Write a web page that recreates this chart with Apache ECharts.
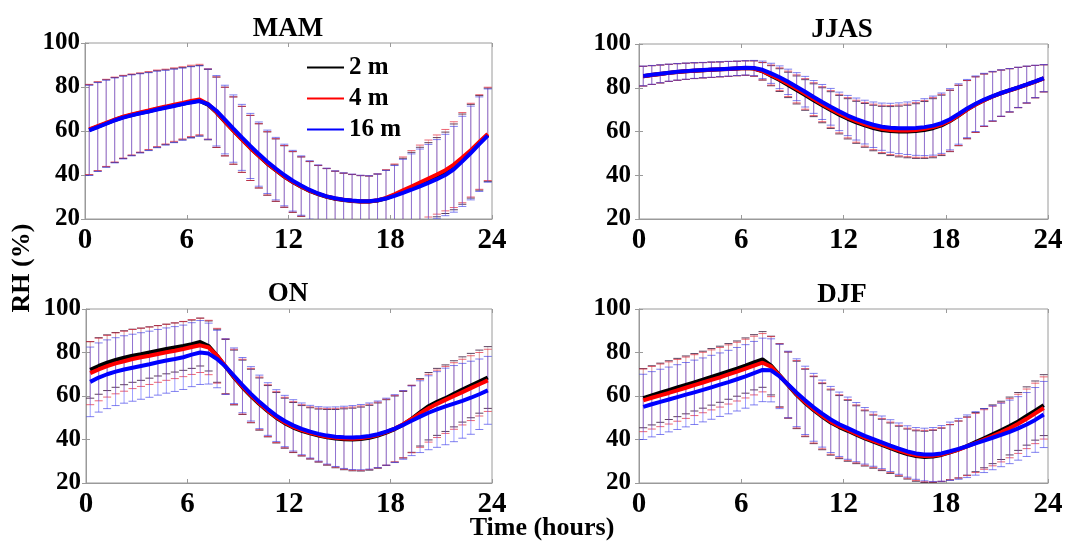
<!DOCTYPE html>
<html>
<head>
<meta charset="utf-8">
<script src="https://cdn.jsdelivr.net/npm/echarts@6/dist/echarts.min.js"></script>
<style>html,body{margin:0;padding:0;background:#fff;}#c{width:1078px;height:541px;}</style>
</head>
<body>
<div id="c"></div>
<script>
// Time of day (hours), half-hourly bins
const T = [0.25,0.75,1.25,1.75,2.25,2.75,3.25,3.75,4.25,4.75,5.25,5.75,6.25,6.75,7.25,7.75,8.25,8.75,9.25,9.75,10.25,10.75,11.25,11.75,12.25,12.75,13.25,13.75,14.25,14.75,15.25,15.75,16.25,16.75,17.25,17.75,18.25,18.75,19.25,19.75,20.25,20.75,21.25,21.75,22.25,22.75,23.25,23.75];
const seriesNames = ['2 m', '4 m', '16 m'];
const panelTitles = ['MAM', 'JJAS', 'ON', 'DJF'];
const xTicks = [0, 6, 12, 18, 24];
const yTicks = [20, 40, 60, 80, 100];

// MAM
const MAM_2m  = [60.5,62,63.5,65,66.3,67.3,68.2,69,70,70.8,71.6,72.4,73.2,73.8,72,68.5,64.3,60.2,56.2,52.3,48.7,45.2,42.2,39.3,36.8,34.7,32.8,31.3,30.1,29.2,28.6,28.2,27.9,27.9,28.4,29.4,30.8,32.4,34,35.6,37.2,39,41,43.7,47.2,50.8,54.6,58.3];
const MAM_4m  = [60.7,62.2,63.7,65.2,66.5,67.5,68.4,69.3,70.3,71.1,72,72.8,73.7,74.3,72.3,68.6,64.3,60.2,56.2,52.3,48.7,45.3,42.3,39.4,36.9,34.8,32.9,31.4,30.2,29.3,28.7,28.3,28,28,28.5,29.6,31.2,33,34.8,36.6,38.4,40.2,42.2,44.7,47.9,51.3,55,58.7];
const MAM_16m = [60.3,61.8,63.3,64.8,66.1,67.1,68,68.8,69.8,70.6,71.4,72.2,73,73.6,72.2,69.2,65.2,61.1,57.1,53.2,49.5,46,42.9,40,37.4,35.2,33.2,31.6,30.3,29.4,28.8,28.4,28.1,28.1,28.5,29.3,30.5,31.9,33.3,34.8,36.4,38.1,40,42.6,46.2,50,54,57.9];
const MAM_sd  = [20.5,20.2,19.8,19.3,18.8,18.4,18,17.7,17.4,17,16.7,16.4,16.2,16,16,16,15.6,15.3,15,14.8,14.6,14.4,14.2,14,13.8,13.5,13.3,13,12.8,12.5,12.2,12,11.8,11.6,12,12.8,13.8,15.2,16.3,17,17.5,18,18.5,19.5,20.5,21.3,21.5,21.2];

// JJAS
const JJAS_2m  = [85.3,85.8,86.3,86.8,87.2,87.5,87.8,88,88.2,88.4,88.6,88.8,89,88.8,87.5,85.5,83.5,81.3,79,76.7,74.3,72,69.8,67.7,65.8,64.2,62.8,61.6,60.7,60.2,60,60,60.2,60.7,61.5,62.8,64.8,67.3,70,72.3,74.3,76,77.5,78.8,80.1,81.4,82.8,84.3];
const JJAS_4m  = [85.3,85.8,86.3,86.8,87.2,87.5,87.8,88,88.2,88.4,88.6,88.8,89,88.8,87.6,85.8,83.9,81.8,79.5,77.2,74.8,72.5,70.3,68.2,66.3,64.7,63.3,62.1,61.2,60.7,60.5,60.5,60.7,61.2,62,63.2,65,67.4,70,72.3,74.3,76,77.5,78.8,80.1,81.4,82.8,84.3];
const JJAS_16m = [85.4,85.9,86.4,86.9,87.3,87.6,87.9,88.1,88.3,88.5,88.7,88.9,89.1,89,88.2,86.6,84.8,82.7,80.5,78.2,75.8,73.5,71.3,69.2,67.3,65.7,64.3,63.1,62.2,61.7,61.5,61.5,61.6,62,62.7,63.8,65.6,68,70.5,72.7,74.6,76.2,77.6,78.9,80.2,81.5,82.9,84.4];
const JJAS_sd  = [4.5,4.3,4.1,3.9,3.8,3.7,3.6,3.5,3.5,3.4,3.4,3.3,3.3,3.5,4,4.6,5.2,5.8,6.4,7,7.5,8,8.4,8.8,9.2,9.6,10,10.4,10.8,11.2,11.6,12,12.5,13,13.5,13.8,14,13.8,13.3,12.7,12,11.3,10.6,9.9,9.2,8.4,7.4,6.2];

// ON
const ON_2m  = [72,73.8,75.3,76.6,77.6,78.5,79.2,80,80.8,81.6,82.3,83,83.8,84.8,83,78.5,73.5,68.5,64,60,56.3,53,50,47.5,45.5,44,42.8,41.8,41,40.4,40.1,40,40.2,40.8,41.8,43.2,44.8,46.8,49.5,52.5,55.3,57.3,59,61,63,64.8,66.6,68.5];
const ON_4m  = [70.5,72.2,73.7,75,76,77,77.8,78.5,79.3,80.1,80.8,81.6,82.5,83.3,82.3,78.5,73.6,68.8,64.3,60.3,56.6,53.3,50.3,47.8,45.8,44.3,43.1,42.1,41.3,40.8,40.5,40.4,40.6,41.2,42.1,43.4,45,47,49.4,52,54.4,56.4,58.2,60,61.8,63.6,65.4,67.2];
const ON_16m = [66.5,68.5,70,71.2,72.2,73,73.8,74.6,75.5,76.3,77,77.8,79,80,79.5,77,73.5,69.3,65,61,57.3,54,51,48.5,46.5,44.9,43.6,42.6,41.8,41.3,41,40.9,41.1,41.6,42.4,43.6,45,46.7,48.6,50.5,52.3,53.8,55.2,56.5,57.8,59.2,60.8,62.6];
const ON_sd_2m  = [13,13,12.8,12.6,12.4,12.2,12,11.8,11.6,11.4,11.3,11.2,11.1,11,11.5,12.2,12.5,12.6,12.5,12.3,12,11.8,11.6,11.5,11.5,11.6,11.8,12.2,12.8,13.4,14,14.4,14.7,14.9,15,15.1,15.2,15.3,15.4,15.5,15.5,15.4,15.3,15.2,15,14.8,14.5,14.2];
const ON_sd_4m  = [14.5,14.4,14.2,14,13.8,13.6,13.4,13.2,13,12.9,12.8,12.7,12.6,12.5,12.5,12.6,12.7,12.7,12.6,12.4,12.1,11.9,11.7,11.6,11.6,11.7,11.9,12.3,12.9,13.5,14.1,14.5,14.8,15,15.1,15.2,15.3,15.4,15.5,15.6,15.6,15.5,15.4,15.3,15.1,14.9,14.6,14.3];
const ON_sd_16m = [16,15.9,15.8,15.6,15.5,15.4,15.3,15.2,15.1,15,14.9,14.8,14.7,14.7,14,13.2,12.8,12.8,12.7,12.5,12.3,12.1,11.9,11.8,11.8,11.9,12.1,12.5,13.1,13.7,14.3,14.7,15,15.2,15.3,15.4,15.6,15.8,16,16.5,17,17.4,17.6,17.5,17.2,16.8,16.2,15.6];

// DJF
const DJF_2m  = [59,60.3,61.5,62.7,63.9,65.1,66.3,67.5,68.8,70,71.3,72.6,74,75.5,76.8,74,69.5,65,60.5,56.8,53.5,50.5,47.8,45.7,44,42.2,40.5,39,37.5,36,34.6,33.3,32.4,32,32.2,32.9,34.1,35.4,37,38.8,40.6,42.4,44.2,46.2,48.3,50.8,53.3,55.8];
const DJF_4m  = [58,59.2,60.3,61.4,62.6,63.8,65,66.2,67.4,68.6,69.9,71.2,72.6,74,75.3,73.5,69.4,65.1,60.8,57.1,53.8,50.9,48.2,46.1,44.4,42.6,40.9,39.4,37.9,36.4,35,33.7,32.8,32.4,32.5,33.1,34.2,35.4,36.8,38.4,40,41.6,43.3,45.2,47.2,49.5,52,54.5];
const DJF_16m = [55,56.2,57.3,58.4,59.5,60.6,61.7,62.8,64,65.2,66.4,67.7,69,70.5,72,71.8,69,65.3,61.5,58,54.8,51.9,49.2,47,45.2,43.4,41.7,40.2,38.7,37.2,35.8,34.5,33.6,33.1,33.1,33.6,34.6,35.7,36.9,38.2,39.5,40.8,42.1,43.5,45.1,46.9,49,51.5];
const DJF_sd_2m  = [13.6,13.6,13.6,13.5,13.4,13.3,13.2,13.1,13,12.9,12.8,12.7,12.7,12.7,12.8,13.5,14.5,15.2,15.5,15.5,15.4,15.2,15,14.5,14,13.3,12.7,12.2,11.8,11.6,11.5,11.5,11.6,11.8,12,12.3,12.7,13.1,13.4,13.6,13.6,13.5,13.4,13.3,13.3,13.4,13.6,14];
const DJF_sd_4m  = [14.4,14.4,14.4,14.3,14.2,14.1,14,13.9,13.8,13.7,13.6,13.5,13.5,13.5,13.4,13.8,14.6,15.2,15.5,15.5,15.4,15.2,15,14.5,14,13.3,12.7,12.2,11.8,11.6,11.5,11.5,11.6,11.8,12,12.3,12.7,13.1,13.4,13.6,13.7,13.7,13.6,13.6,13.6,13.7,13.9,14.3];
const DJF_sd_16m = [15,15,15,14.9,14.9,14.8,14.8,14.7,14.7,14.6,14.6,14.6,14.6,14.6,14.6,14.5,14.8,15.3,15.6,15.7,15.6,15.4,15.2,14.8,14.3,13.6,13,12.5,12.1,11.9,11.8,11.8,11.9,12.1,12.4,12.8,13.4,14,14.4,14.6,14.7,14.7,14.6,14.6,14.6,14.7,14.9,15.2];

const panelMeans = [
  [MAM_2m, MAM_4m, MAM_16m],
  [JJAS_2m, JJAS_4m, JJAS_16m],
  [ON_2m, ON_4m, ON_16m],
  [DJF_2m, DJF_4m, DJF_16m]
];
const panelSd = [
  [MAM_sd, MAM_sd, MAM_sd],
  [JJAS_sd, JJAS_sd, JJAS_sd],
  [ON_sd_2m, ON_sd_4m, ON_sd_16m],
  [DJF_sd_2m, DJF_sd_4m, DJF_sd_16m]
];

// ---- layout / style ----
const FONT = 'Liberation Serif';
const colors = ['#000000', '#ff0000', '#0000ff'];
const whiskerColors = ['rgba(0,0,0,0.18)', 'rgba(255,0,0,0.25)', 'rgba(80,80,255,0.55)'];
const capColors = ['rgba(40,0,40,0.75)', 'rgba(230,40,60,0.7)', 'rgba(60,60,230,0.65)'];
const grids = [
  {left: 85, top: 43, width: 407, height: 176},
  {left: 639, top: 44, width: 409, height: 175},
  {left: 86, top: 309, width: 406, height: 174},
  {left: 639, top: 309, width: 409, height: 174}
];
const titlePos = [[288, 29], [842, 30], [288, 294], [842, 295]];
const frameColor = '#9a9a9a';

const xAxes = [], yAxes = [], series = [];
grids.forEach((g, i) => {
  g.show = true; g.borderColor = frameColor; g.borderWidth = 1; g.backgroundColor = '#fff';
  xAxes.push({
    gridIndex: i, type: 'value', min: xTicks[0], max: xTicks[xTicks.length - 1], interval: 6,
    position: 'bottom',
    axisLine: {show: true, lineStyle: {color: frameColor, width: 1}},
    axisTick: {show: true, inside: true, length: 4, lineStyle: {color: frameColor}},
    axisLabel: {show: true, margin: 7, color: '#000', fontFamily: FONT, fontWeight: 'bold', fontSize: 29},
    splitLine: {show: false}
  });
  xAxes.push({
    gridIndex: i, type: 'value', min: 0, max: 24, interval: 6, position: 'top',
    axisLine: {show: false},
    axisTick: {show: true, inside: true, length: 4, lineStyle: {color: frameColor}},
    axisLabel: {show: false}, splitLine: {show: false}
  });
  yAxes.push({
    gridIndex: i, type: 'value', min: yTicks[0], max: yTicks[yTicks.length - 1], interval: 20,
    position: 'left',
    axisLine: {show: true, lineStyle: {color: frameColor, width: 1}},
    axisTick: {show: true, inside: true, length: 4, lineStyle: {color: frameColor}},
    axisLabel: {show: true, margin: i % 2 === 0 ? 5 : 8, color: '#000', fontFamily: FONT, fontWeight: 'bold', fontSize: 25},
    splitLine: {show: false}
  });
  yAxes.push({
    gridIndex: i, type: 'value', min: 20, max: 100, interval: 20, position: 'right',
    axisLine: {show: false},
    axisTick: {show: true, inside: true, length: 4, lineStyle: {color: frameColor}},
    axisLabel: {show: false}, splitLine: {show: false}
  });

  // error bars
  for (let s = 0; s < 3; s++) {
    const m = panelMeans[i][s], sd = panelSd[i][s];
    const data = T.map((t, k) => [t, m[k] - sd[k], m[k] + sd[k]]);
    series.push({
      type: 'custom', xAxisIndex: 2 * i, yAxisIndex: 2 * i, clip: true, z: 1, silent: true,
      data: data,
      renderItem: (function (s) {
        return function (params, api) {
          const x = api.value(0);
          const lo = api.coord([x, api.value(1)]);
          const hi = api.coord([x, api.value(2)]);
          const hw = 4;
          return {
            type: 'group', children: [
              {type: 'line', shape: {x1: lo[0], y1: lo[1], x2: hi[0], y2: hi[1]}, style: {stroke: whiskerColors[s], lineWidth: 1}},
              {type: 'line', shape: {x1: lo[0] - hw, y1: lo[1], x2: lo[0] + hw, y2: lo[1]}, style: {stroke: capColors[s], lineWidth: 1}},
              {type: 'line', shape: {x1: hi[0] - hw, y1: hi[1], x2: hi[0] + hw, y2: hi[1]}, style: {stroke: capColors[s], lineWidth: 1}}
            ]
          };
        };
      })(s)
    });
  }
  // mean lines
  for (let s = 0; s < 3; s++) {
    const m = panelMeans[i][s];
    series.push({
      type: 'line', name: seriesNames[s], xAxisIndex: 2 * i, yAxisIndex: 2 * i, z: 3,
      data: T.map((t, k) => [t, m[k]]),
      showSymbol: false, symbol: 'none', smooth: false,
      color: colors[s],
      lineStyle: {color: colors[s], width: 4},
      animation: false
    });
  }
});

const graphics = [];
panelTitles.forEach((t, i) => {
  graphics.push({
    type: 'text', x: titlePos[i][0], y: titlePos[i][1],
    style: {text: t, fill: '#000', font: 'bold 27px "' + FONT + '"', textAlign: 'center', textVerticalAlign: 'middle'}
  });
});
graphics.push({
  type: 'text', x: 22, y: 268, rotation: Math.PI / 2,
  style: {text: 'RH (%)', fill: '#000', font: 'bold 26px "' + FONT + '"', textAlign: 'center', textVerticalAlign: 'middle'}
});
graphics.push({
  type: 'text', x: 542, y: 528,
  style: {text: 'Time (hours)', fill: '#000', font: 'bold 26px "' + FONT + '"', textAlign: 'center', textVerticalAlign: 'middle'}
});

const chart = echarts.init(document.getElementById('c'), null, {renderer: 'canvas'});
chart.setOption({
  animation: false,
  backgroundColor: '#ffffff',
  grid: grids,
  xAxis: xAxes,
  yAxis: yAxes,
  legend: {
    data: seriesNames, orient: 'vertical', left: 302, top: 50, itemGap: 6,
    icon: 'rect', itemWidth: 37, itemHeight: 2,
    textStyle: {color: '#000', fontFamily: FONT, fontWeight: 'bold', fontSize: 25, padding: [0, 0, 0, 0]},
    backgroundColor: 'transparent', borderWidth: 0, selectedMode: false
  },
  graphic: graphics,
  series: series
});
</script>
</body>
</html>
